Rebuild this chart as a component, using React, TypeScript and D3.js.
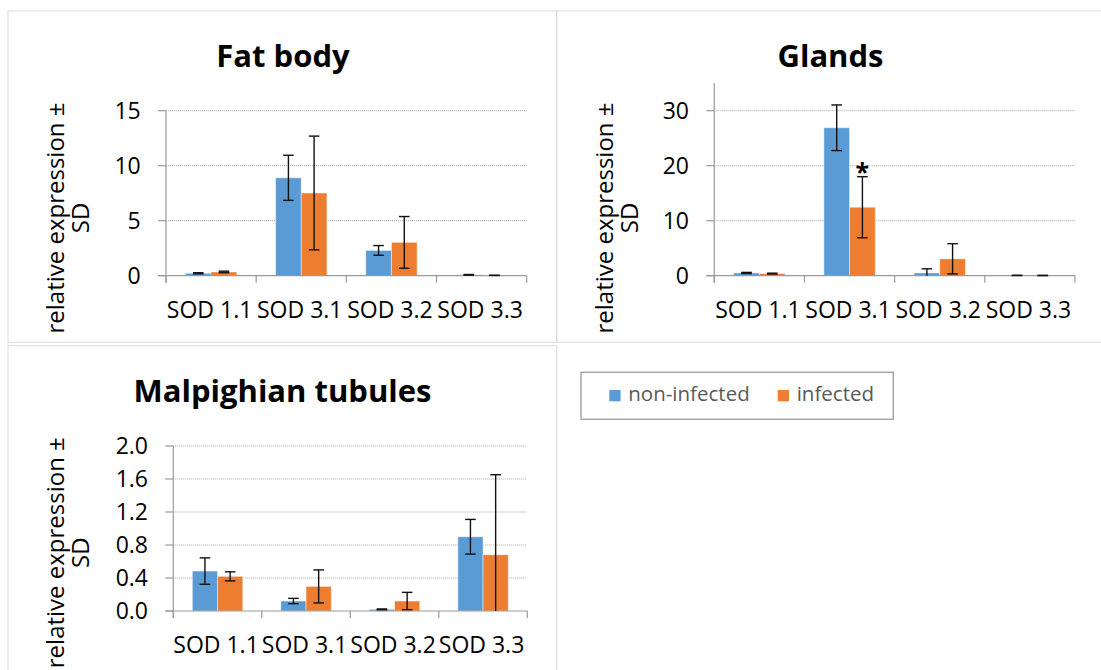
import { useRef, useEffect } from 'react';
import * as d3 from 'd3';

const categories = ['SOD 1.1', 'SOD 3.1', 'SOD 3.2', 'SOD 3.3'];
const seriesNames = ['non-infected', 'infected'];
const seriesColors = ['#5B9BD5', '#ED7D31'];

// Fat body
const fatNonInfected = [0.22, 8.9, 2.3, 0.08];
const fatNonInfectedSD = [0.05, 2.05, 0.44, 0.03];
const fatInfected = [0.34, 7.52, 3.03, 0.03];
const fatInfectedSD = [0.07, 5.17, 2.35, 0.01];
const fatTicks = [0, 5, 10, 15];

// Glands
const glandNonInfected = [0.5, 26.9, 0.5, 0.05];
const glandNonInfectedSD = [0.1, 4.15, 0.75, 0.02];
const glandInfected = [0.38, 12.45, 3.07, 0.04];
const glandInfectedSD = [0.08, 5.55, 2.75, 0.02];
const glandTicks = [0, 10, 20, 30];
const glandSignificant = [false, true, false, false];

// Malpighian tubules
const malpNonInfected = [0.484, 0.121, 0.02, 0.9];
const malpNonInfectedSD = [0.16, 0.032, 0.005, 0.21];
const malpInfected = [0.42, 0.298, 0.121, 0.682];
const malpInfectedSD = [0.055, 0.2, 0.105, 0.97];
const malpTicks = [0, 0.4, 0.8, 1.2, 1.6, 2.0];

const yTitle1 = 'relative expression ±';
const yTitle2 = 'SD';

const FONT = '"Open Sans", sans-serif';

interface Panel {
  title: string;
  mean: number[][];
  sd: number[][];
  star?: boolean[];
  yMax: number;
  ticks: number[];
  fmt: (v: number) => string;
  box: { x: number; y: number; w: number; h: number };
  plot: { left: number; right: number; bottom: number };
  titleX: number;
}

const panels: Panel[] = [
  {
    title: 'Fat body',
    mean: [fatNonInfected, fatInfected],
    sd: [fatNonInfectedSD, fatInfectedSD],
    yMax: 15,
    ticks: fatTicks,
    fmt: d3.format('d'),
    box: { x: 8, y: 11, w: 548.7, h: 331.3 },
    plot: { left: 166, right: 526.7, bottom: 275.7 },
    titleX: 283,
  },
  {
    title: 'Glands',
    mean: [glandNonInfected, glandInfected],
    sd: [glandNonInfectedSD, glandInfectedSD],
    star: glandSignificant,
    yMax: 35,
    ticks: glandTicks,
    fmt: d3.format('d'),
    box: { x: 556.7, y: 11, w: 549, h: 331.3 },
    plot: { left: 714.3, right: 1075, bottom: 275.7 },
    titleX: 830.5,
  },
  {
    title: 'Malpighian tubules',
    mean: [malpNonInfected, malpInfected],
    sd: [malpNonInfectedSD, malpInfectedSD],
    yMax: 2,
    ticks: malpTicks,
    fmt: d3.format('.1f'),
    box: { x: 8, y: 345.7, w: 548.7, h: 340 },
    plot: { left: 173.3, right: 527.3, bottom: 611 },
    titleX: 282.5,
  },
];

// height of the span from 0 to the top tick
const PLOT_H = 165;

function drawPanel(root: d3.Selection<SVGSVGElement, unknown, null, undefined>, p: Panel) {
  const g = root.append('g');
  const { box, plot } = p;
  const top = plot.bottom - PLOT_H * (p.yMax / p.ticks[p.ticks.length - 1]);

  g.append('rect').attr('x', box.x).attr('y', box.y).attr('width', box.w).attr('height', box.h)
    .attr('fill', 'none').attr('stroke', '#d9d9d9').attr('stroke-width', 1);

  // title
  g.append('text').attr('x', p.titleX).attr('y', box.y + 56).attr('text-anchor', 'middle')
    .attr('font-family', FONT).attr('font-weight', 700).attr('font-size', 31).attr('fill', '#000')
    .text(p.title);

  // axis title
  const cy = box.y + 207;
  [yTitle1, yTitle2].forEach((t, i) => {
    const bx = box.x + 56 + i * 25;
    g.append('text').attr('transform', `translate(${bx},${cy}) rotate(-90)`).attr('text-anchor', 'middle')
      .attr('font-family', FONT).attr('font-size', 24).attr('fill', '#000').text(t);
  });

  const x = d3.scaleBand<string>().domain(categories).range([plot.left, plot.right]).paddingInner(0).paddingOuter(0);
  const y = d3.scaleLinear().domain([0, p.yMax]).range([plot.bottom, top]);
  const barW = x.bandwidth() / 3.51;
  const xs = d3.scaleBand<string>().domain(seriesNames).range([0, barW * 2]);

  // gridlines
  p.ticks.filter(t => t > 0).forEach(t => {
    g.append('line').attr('x1', plot.left).attr('x2', plot.right).attr('y1', y(t)).attr('y2', y(t))
      .attr('stroke', '#a6a6a6').attr('stroke-width', 1).attr('stroke-dasharray', '1,1');
  });

  // y axis
  g.append('line').attr('x1', plot.left).attr('x2', plot.left).attr('y1', top).attr('y2', plot.bottom + 7)
    .attr('stroke', '#9a9a9a').attr('stroke-width', 1.2);
  p.ticks.forEach(t => {
    g.append('line').attr('x1', plot.left - 8).attr('x2', plot.left).attr('y1', y(t)).attr('y2', y(t))
      .attr('stroke', '#9a9a9a').attr('stroke-width', 1.2);
    g.append('text').attr('x', plot.left - 25.3).attr('y', y(t)).attr('dy', '0.36em').attr('text-anchor', 'end')
      .attr('font-family', FONT).attr('font-size', 23).attr('fill', '#000').text(p.fmt(t));
  });

  // bars
  seriesNames.forEach((s, si) => {
    categories.forEach((c, ci) => {
      const v = p.mean[si][ci];
      const bx = x(c)! + (x.bandwidth() - barW * 2) / 2 + xs(s)!;
      g.append('rect').attr('x', bx).attr('y', y(v)).attr('width', xs.bandwidth()).attr('height', plot.bottom - y(v))
        .attr('fill', seriesColors[si]).attr('stroke', 'rgba(255,255,255,0.45)').attr('stroke-width', 1);
    });
  });

  // x axis
  g.append('line').attr('x1', plot.left - 8).attr('x2', plot.right).attr('y1', plot.bottom).attr('y2', plot.bottom)
    .attr('stroke', '#9a9a9a').attr('stroke-width', 1.2);
  [...categories.map(c => x(c)!), plot.right].forEach(px => {
    g.append('line').attr('x1', px).attr('x2', px).attr('y1', plot.bottom).attr('y2', plot.bottom + 7)
      .attr('stroke', '#9a9a9a').attr('stroke-width', 1.2);
  });
  categories.forEach(c => {
    g.append('text').attr('x', x(c)! + x.bandwidth() / 2 - 1.5).attr('y', plot.bottom + 42.3).attr('text-anchor', 'middle')
      .attr('font-family', FONT).attr('font-size', 23).attr('fill', '#000').text(c);
  });

  // error bars
  seriesNames.forEach((s, si) => {
    categories.forEach((c, ci) => {
      const v = p.mean[si][ci];
      const e = p.sd[si][ci];
      const cx = x(c)! + (x.bandwidth() - barW * 2) / 2 + xs(s)! + xs.bandwidth() / 2;
      const hi = y(v + e);
      const loVal = v - e;
      const lo = y(Math.max(0, loVal));
      const eg = g.append('g').attr('stroke', '#111').attr('stroke-width', 1.4);
      eg.append('line').attr('x1', cx).attr('x2', cx).attr('y1', hi).attr('y2', lo);
      eg.append('line').attr('x1', cx - 5.3).attr('x2', cx + 5.3).attr('y1', hi).attr('y2', hi);
      if (loVal >= 0) eg.append('line').attr('x1', cx - 5.3).attr('x2', cx + 5.3).attr('y1', lo).attr('y2', lo);
      if (p.star && si === 1 && p.star[ci]) {
        g.append('text').attr('x', cx).attr('y', hi + 4).attr('text-anchor', 'middle')
          .attr('font-family', FONT).attr('font-weight', 700).attr('font-size', 25).attr('fill', '#000').text('*');
      }
    });
  });
}

export default function App() {
  const svgRef = useRef<SVGSVGElement>(null);

  useEffect(() => {
    const svg = svgRef.current;
    if (!svg) return;
    const root = d3.select(svg);
    root.selectAll('*').remove();
    root.append('rect').attr('width', 1101).attr('height', 670).attr('fill', '#fff');

    panels.forEach(p => drawPanel(root, p));

    // legend
    const lg = root.append('g');
    lg.append('rect').attr('x', 581).attr('y', 372.3).attr('width', 312.3).attr('height', 47)
      .attr('fill', '#fff').attr('stroke', '#a6a6a6').attr('stroke-width', 1.5);
    const legendX = [609.3, 777.7];
    seriesNames.forEach((s, i) => {
      lg.append('rect').attr('x', legendX[i]).attr('y', 390).attr('width', 11.3).attr('height', 11.3)
        .attr('fill', seriesColors[i]);
      lg.append('text').attr('x', legendX[i] + 19).attr('y', 401).attr('font-family', FONT).attr('font-size', 20.5)
        .attr('fill', '#595959').text(s);
    });
  }, []);

  return (
    <div style={{ position: 'absolute', left: 0, top: 0 }}>
      <svg ref={svgRef} width={1101} height={670} style={{ display: 'block' }} />
    </div>
  );
}
